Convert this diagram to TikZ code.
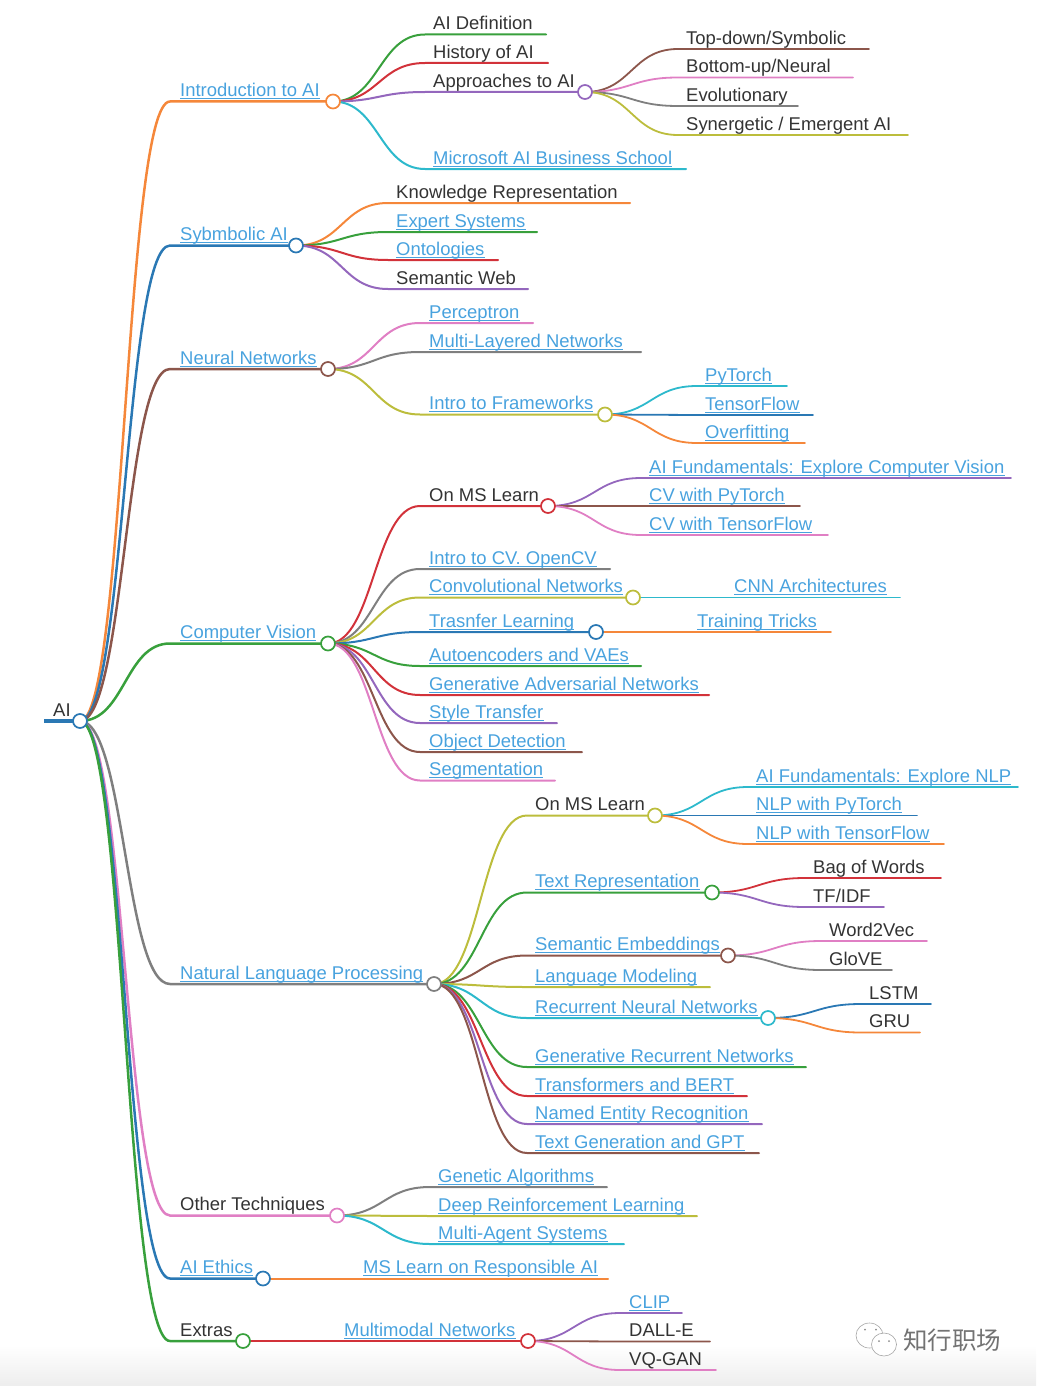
\documentclass[tikz,border=0pt]{standalone}
\usepackage{fontspec}
\setmainfont{Liberation Sans}
\newfontfamily\cjkwm{Noto Sans CJK SC}
\usetikzlibrary{calc,backgrounds}
\definecolor{cBlu}{HTML}{2A78B4}
\definecolor{cOra}{HTML}{F5873A}
\definecolor{cGrn}{HTML}{38A03C}
\definecolor{cRed}{HTML}{D2323A}
\definecolor{cPur}{HTML}{9467BD}
\definecolor{cBrn}{HTML}{8C564B}
\definecolor{cPnk}{HTML}{E07FC4}
\definecolor{cGry}{HTML}{7F7F7F}
\definecolor{cOli}{HTML}{BCBD3C}
\definecolor{cTea}{HTML}{2DB9CC}
\definecolor{cLink}{HTML}{48A2DE}
\definecolor{cText}{HTML}{333333}
\tikzset{
  conn/.style={line width=1.6pt,line cap=round},
  lvone/.style={line width=2.5pt},
  lvtwo/.style={line width=2pt},
  lvthree/.style={line width=1.8pt},
  hub/.style={circle,draw,fill=white,line width=1.7pt,minimum size=14pt,inner sep=0pt},
  plainlbl/.style={anchor=base west,inner sep=0pt,text=cText,font=\fontsize{18.45}{20}\selectfont},
  linklbl/.style={plainlbl,text=cLink},
  ulink/.style={draw=cLink,line width=0.9pt},
  wmark/.style={inner sep=0pt,text=black!55,font=\cjkwm\fontsize{24.5}{26}\selectfont},
  wmicon/.style={draw=black!35,line width=0.6pt,fill=white},
}
% connector: name parent style xs y xe
\newcommand\Conn[6]{%
  \coordinate (#1s) at (#4,#5);
  \coordinate (#1e) at (#6,#5);
  \coordinate (#1m) at ($(#2.center)!.5!(#1s)$);
  \begin{scope}[on background layer]
    \draw[conn,#3] (#2.center) .. controls (#1m |- #2.center) and (#1m |- #1s) .. (#1s) -- (#1e);
  \end{scope}}
% plain text: name parent style xs y xe xt text
\newcommand\TxN[8]{%
  \Conn{#1}{#2}{#3}{#4}{#5}{#6}
  \node[plainlbl] (#1) at (#7,#5-4.6) {#8};}
\newcommand\LkN[8]{%
  \Conn{#1}{#2}{#3}{#4}{#5}{#6}
  \node[linklbl] (#1) at (#7,#5-4.6) {#8};
  \draw[ulink] ([yshift=-2pt]#1.base west) -- ([yshift=-2pt]#1.base east);}
% hub: name x y colour
\newcommand\Hub[4]{\node[hub,draw=#4] (#1) at (#2,#3) {};}
\begin{document}
\begin{tikzpicture}[x=1pt,y=-1pt]
\useasboundingbox (0,0) rectangle (1036,1386);
\begin{scope}[on background layer]
  \shade[top color=white,bottom color=black!7] (0,1345) rectangle (1036,1386);
\end{scope}

% root
\Hub{root}{80}{721}{cBlu}
\coordinate (rootleft) at (44,721);
\begin{scope}[on background layer]
  \draw[cBlu,line width=4pt] (rootleft) -- (root.center);
\end{scope}
\node[plainlbl] (ai) at (53,716) {AI};

% Introduction to AI
\Hub{intro}{333}{101.5}{cOra}
\LkN{introl}{root}{cOra,lvone}{170}{101.5}{333}{180}{Introduction to AI}
\TxN{def}{intro}{cGrn,lvtwo}{425}{34.5}{546}{433}{AI Definition}
\TxN{hist}{intro}{cRed,lvtwo}{425}{63}{548}{433}{History of AI}
\Hub{appr}{585}{92}{cPur}
\TxN{apprl}{intro}{cPur,lvtwo}{425}{92}{585}{433}{Approaches to AI}
\TxN{topd}{appr}{cBrn,lvthree}{678}{49}{869}{686}{Top-down/Symbolic}
\TxN{botu}{appr}{cPnk,lvthree}{678}{77.5}{853}{686}{Bottom-up/Neural}
\TxN{evol}{appr}{cGry,lvthree}{678}{106}{798}{686}{Evolutionary}
\TxN{syne}{appr}{cOli,lvthree}{678}{135}{908}{686}{Synergetic / Emergent AI}
\LkN{msft}{intro}{cTea,lvtwo}{425}{169}{686}{433}{Microsoft AI Business School}

% Symbolic AI
\Hub{symb}{296}{245.5}{cBlu}
\LkN{symbl}{root}{cBlu,lvone}{170}{245.5}{296}{180}{Sybmbolic AI}
\TxN{know}{symb}{cOra,lvtwo}{388}{203}{630}{396}{Knowledge Representation}
\LkN{expe}{symb}{cGrn,lvtwo}{388}{232}{537}{396}{Expert Systems}
\LkN{onto}{symb}{cRed,lvtwo}{388}{260}{498}{396}{Ontologies}
\TxN{semw}{symb}{cPur,lvtwo}{388}{289}{528}{396}{Semantic Web}

% Neural Networks
\Hub{nn}{328}{369}{cBrn}
\LkN{nnl}{root}{cBrn,lvone}{170}{369}{328}{180}{Neural Networks}
\LkN{perc}{nn}{cPnk,lvtwo}{420}{323}{533}{429}{Perceptron}
\LkN{mult}{nn}{cGry,lvtwo}{420}{352}{641}{429}{Multi-Layered Networks}
\Hub{fram}{605}{414.5}{cOli}
\LkN{framl}{nn}{cOli,lvtwo}{420}{414.5}{605}{429}{Intro to Frameworks}
\LkN{pyt}{fram}{cTea,lvthree}{697}{386}{787}{705}{PyTorch}
\LkN{tenf}{fram}{cBlu,lvthree}{697}{415}{813}{705}{TensorFlow}
\LkN{over}{fram}{cOra,lvthree}{697}{443}{805}{705}{Overfitting}

% Computer Vision
\Hub{cv}{328}{643.5}{cGrn}
\LkN{cvl}{root}{cGrn,lvone}{170}{643.5}{328}{180}{Computer Vision}
\Hub{cvms}{548}{506}{cRed}
\TxN{cvmsl}{cv}{cRed,lvtwo}{420}{506}{548}{429}{On MS Learn}
\LkN{cvf}{cvms}{cPur,lvthree}{641}{478}{1011}{649}{AI Fundamentals: Explore Computer Vision}
\LkN{cvp}{cvms}{cBrn,lvthree}{641}{506}{800}{649}{CV with PyTorch}
\LkN{cvt}{cvms}{cPnk,lvthree}{641}{535}{828}{649}{CV with TensorFlow}
\LkN{ocv}{cv}{cGry,lvtwo}{420}{569}{610}{429}{Intro to CV. OpenCV}
\Hub{conv}{633}{597.5}{cOli}
\LkN{convl}{cv}{cOli,lvtwo}{420}{597.5}{633}{429}{Convolutional Networks}
\LkN{cnna}{conv}{cTea,lvthree}{725}{597.5}{900}{734}{CNN Architectures}
\Hub{tran}{596}{632}{cBlu}
\LkN{tranl}{cv}{cBlu,lvtwo}{420}{632}{596}{429}{Trasnfer Learning}
\LkN{trai}{tran}{cOra,lvthree}{688}{632}{831}{697}{Training Tricks}
\LkN{auto}{cv}{cGrn,lvtwo}{420}{666}{641}{429}{Autoencoders and VAEs}
\LkN{gan}{cv}{cRed,lvtwo}{420}{695}{709}{429}{Generative Adversarial Networks}
\LkN{styl}{cv}{cPur,lvtwo}{420}{723}{557}{429}{Style Transfer}
\LkN{obj}{cv}{cBrn,lvtwo}{420}{752}{582}{429}{Object Detection}
\LkN{seg}{cv}{cPnk,lvtwo}{420}{780.5}{555}{429}{Segmentation}

% NLP
\Hub{nlp}{434}{984}{cGry}
\LkN{nlpl}{root}{cGry,lvone}{170}{984}{434}{180}{Natural Language Processing}
\Hub{nlms}{655}{815.5}{cOli}
\TxN{nlmsl}{nlp}{cOli,lvtwo}{527}{815.5}{655}{535}{On MS Learn}
\LkN{nlf}{nlms}{cTea,lvthree}{748}{787}{1018}{756}{AI Fundamentals: Explore NLP}
\LkN{nlpy}{nlms}{cBlu,lvthree}{748}{815.5}{917}{756}{NLP with PyTorch}
\LkN{nlt}{nlms}{cOra,lvthree}{748}{844}{944}{756}{NLP with TensorFlow}
\Hub{trep}{712}{892.5}{cGrn}
\LkN{trepl}{nlp}{cGrn,lvtwo}{527}{892.5}{712}{535}{Text Representation}
\TxN{bow}{trep}{cRed,lvthree}{805}{878}{941}{813}{Bag of Words}
\TxN{tfi}{trep}{cPur,lvthree}{805}{907}{884}{813}{TF/IDF}
\Hub{seme}{728}{955.5}{cBrn}
\LkN{semel}{nlp}{cBrn,lvtwo}{527}{955.5}{728}{535}{Semantic Embeddings}
\TxN{wv}{seme}{cPnk,lvthree}{821}{941}{927}{829}{Word2Vec}
\TxN{glo}{seme}{cGry,lvthree}{821}{970}{892}{829}{GloVE}
\LkN{lang}{nlp}{cOli,lvtwo}{527}{987}{710}{535}{Language Modeling}
\Hub{rnn}{768}{1018}{cTea}
\LkN{rnnl}{nlp}{cTea,lvtwo}{527}{1018}{768}{535}{Recurrent Neural Networks}
\TxN{lstm}{rnn}{cBlu,lvthree}{861}{1004}{931}{869}{LSTM}
\TxN{gru}{rnn}{cOra,lvthree}{861}{1032.5}{920}{869}{GRU}
\LkN{grn}{nlp}{cGrn,lvtwo}{527}{1067}{806}{535}{Generative Recurrent Networks}
\LkN{bert}{nlp}{cRed,lvtwo}{527}{1096}{747}{535}{Transformers and BERT}
\LkN{ner}{nlp}{cPur,lvtwo}{527}{1124}{762}{535}{Named Entity Recognition}
\LkN{gpt}{nlp}{cBrn,lvtwo}{527}{1153}{759}{535}{Text Generation and GPT}

% Other Techniques
\Hub{oth}{337}{1215.5}{cPnk}
\TxN{othl}{root}{cPnk,lvone}{170}{1215.5}{337}{180}{Other Techniques}
\LkN{gen}{oth}{cGry,lvtwo}{430}{1187}{607}{438}{Genetic Algorithms}
\LkN{drl}{oth}{cOli,lvtwo}{430}{1216}{697}{438}{Deep Reinforcement Learning}
\LkN{mas}{oth}{cTea,lvtwo}{430}{1244}{624}{438}{Multi-Agent Systems}

% AI Ethics
\Hub{eth}{263}{1278.5}{cBlu}
\LkN{ethl}{root}{cBlu,lvone}{170}{1278.5}{263}{180}{AI Ethics}
\LkN{resp}{eth}{cOra,lvtwo}{355}{1278.5}{608}{363}{MS Learn on Responsible AI}

% Extras
\Hub{ext}{243}{1341}{cGrn}
\TxN{extl}{root}{cGrn,lvone}{170}{1341}{243}{180}{Extras}
\Hub{mm}{528}{1341}{cRed}
\LkN{mml}{ext}{cRed,lvtwo}{335}{1341}{528}{344}{Multimodal Networks}
\LkN{clip}{mm}{cPur,lvthree}{620}{1313}{682}{629}{CLIP}
\TxN{dall}{mm}{cBrn,lvthree}{620}{1341.5}{710}{629}{DALL-E}
\TxN{vq}{mm}{cPnk,lvthree}{620}{1370}{716}{629}{VQ-GAN}

% watermark
\node[wmark,anchor=west] (wm) at (903,1340) {知行职场};
\draw[wmicon] (869.5,1335.5) ellipse (13.5 and 12.5);
\draw[wmicon] (884,1344.5) ellipse (12.5 and 11.5);
\fill[black!45] (865,1329.5) circle (1) (876,1329.5) circle (1) (879,1341) circle (1) (889,1341) circle (1);
\end{tikzpicture}
\end{document}
